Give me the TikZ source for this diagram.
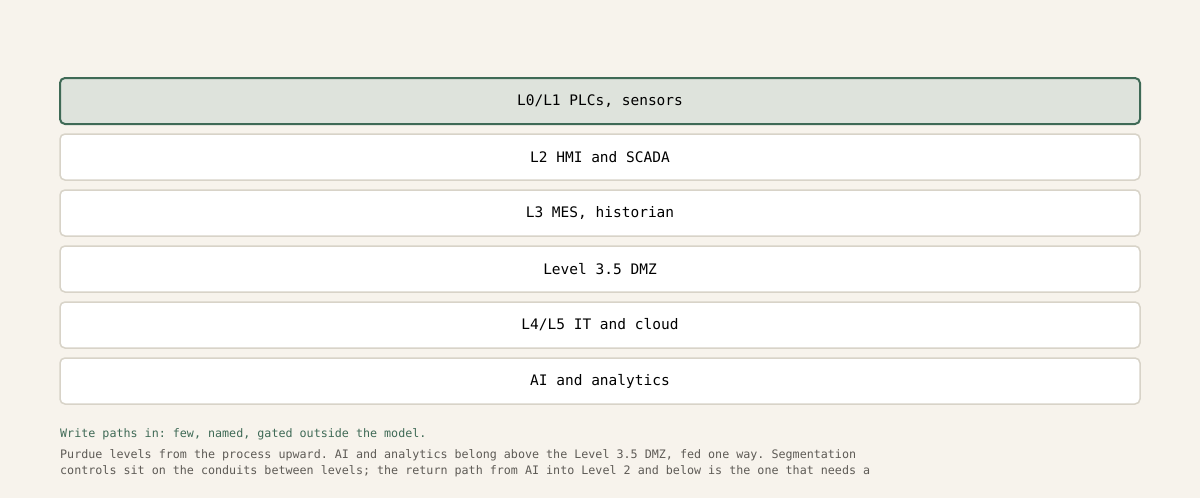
\documentclass[tikz,border=0pt]{standalone}
\usepackage{fontspec}
\setmonofont{DejaVu Sans Mono}
\usepackage{xcolor}
\definecolor{paper}{HTML}{F7F3EC}
\definecolor{pinegreen}{HTML}{3F6A56}
\definecolor{sagefill}{HTML}{DEE3DC}
\definecolor{stoneline}{HTML}{D8D3C8}
\definecolor{inkgray}{HTML}{5E5B56}
\tikzset{
  level/.style={draw=stoneline, line width=1.5pt, fill=white, rounded corners=5pt,
    minimum width=1080pt, minimum height=46pt, font=\ttfamily\fontsize{14.5}{16}\selectfont},
  toplevel/.style={level, draw=pinegreen, line width=2pt, fill=sagefill},
  note/.style={anchor=west, inner sep=0pt, font=\ttfamily\fontsize{11.7}{16}\selectfont}
}
\begin{document}
\begin{tikzpicture}[x=1pt, y=-1pt]
                \fill[paper] (0,0) rectangle (1200,498);
                \useasboundingbox (0,0) rectangle (1200,498);

                \node[toplevel] (L01) at (600, 101) {L0/L1 PLCs, sensors};
                \node[level] (L2) at (600, 157) {L2 HMI and SCADA};
                \node[level] (L3) at (600, 213) {L3 MES, historian};
                \node[level] (DMZ) at (600, 269) {Level 3.5 DMZ};
                \node[level] (L45) at (600, 325) {L4/L5 IT and cloud};
                \node[level] (AI) at (600, 381) {AI and analytics};

                \node[note, text=pinegreen] (rule) at (60, 434) {Write paths in: few, named, gated outside the model.};
                \node[note, text=inkgray] (cap1) at (60, 455) {Purdue levels from the process upward. AI and analytics belong above the Level 3.5 DMZ, fed one way. Segmentation};
                \node[note, text=inkgray] (cap2) at (60, 471) {controls sit on the conduits between levels; the return path from AI into Level 2 and below is the one that needs a};
            \end{tikzpicture}
\end{document}
